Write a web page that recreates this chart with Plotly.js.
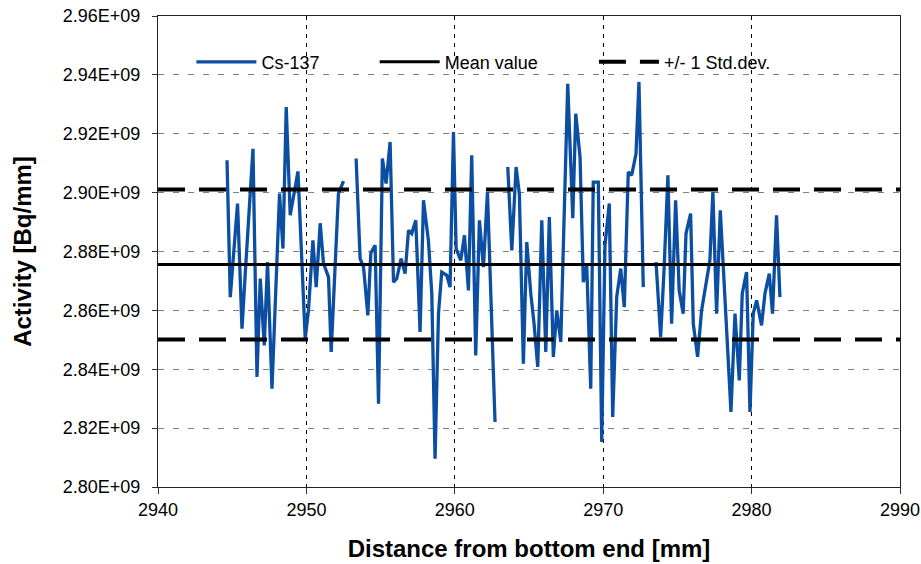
<!DOCTYPE html>
<html>
<head>
<meta charset="utf-8">
<script src="https://cdn.plot.ly/plotly-3.0.1.min.js"></script>
<style>
  html, body { margin: 0; padding: 0; background: #ffffff; }
  #chart { width: 921px; height: 564px; }
</style>
</head>
<body>
<div id="chart"></div>
<script>
// Cs-137 activity profile along the rod: position (mm from bottom end)
// and activity in units of 1E+09 Bq/mm. null marks positions without a reading.
const distanceMm = [
  2944.65, 2944.87, 2945.36, 2945.66, 2945.88, 2946.40, 2946.67, 2946.89, 2947.16, 2947.38,
  2947.68, 2947.90, 2948.19, 2948.42, 2948.64, 2948.91, 2949.43, 2949.92, 2950.14, 2950.44,
  2950.66, 2950.93, 2951.15, 2951.49, 2951.67, 2952.16, 2952.50,
  2952.90,
  2953.35, 2953.62, 2953.85, 2954.14, 2954.34, 2954.63, 2954.86, 2955.12, 2955.37, 2955.64,
  2955.87, 2956.09, 2956.38, 2956.65, 2956.88, 2957.10, 2957.37, 2957.66, 2957.89, 2958.22,
  2958.45, 2958.67, 2958.90, 2959.12, 2959.46, 2959.68, 2959.91, 2960.09, 2960.40, 2960.65,
  2960.92, 2961.14, 2961.41, 2961.66, 2961.93, 2962.20, 2962.71,
  2963.10,
  2963.57, 2963.84, 2964.13, 2964.35, 2964.62, 2964.85, 2965.12, 2965.34, 2965.59, 2965.86,
  2966.13, 2966.37, 2966.64, 2966.87, 2967.14, 2967.36, 2967.61, 2967.95, 2968.15, 2968.44,
  2968.66, 2968.89, 2969.16, 2969.33, 2969.67, 2969.90, 2970.12, 2970.41, 2970.64, 2970.91,
  2971.18, 2971.42, 2971.69, 2971.92, 2972.21, 2972.41, 2972.70,
  2973.10,
  2973.56, 2973.87, 2974.11, 2974.36, 2974.61, 2974.88, 2975.12, 2975.39, 2975.58, 2975.89,
  2976.07, 2976.36, 2976.63, 2976.97, 2977.19, 2977.39, 2977.64, 2977.89, 2978.27, 2978.61,
  2978.88, 2979.17, 2979.37, 2979.66, 2979.89, 2980.11, 2980.34, 2980.67, 2980.90, 2981.19,
  2981.41, 2981.68, 2981.91
];

const cs137Activity = [
  2.9110, 2.8645, 2.8963, 2.8538, 2.8726, 2.9149, 2.8374, 2.8708, 2.8481, 2.8764,
  2.8334, 2.8617, 2.8997, 2.8810, 2.9291, 2.8923, 2.9072, 2.8505, 2.8600, 2.8838,
  2.8679, 2.8896, 2.8760, 2.8713, 2.8459, 2.8997, 2.9039,
  null,
  2.9116, 2.8776, 2.8747, 2.8583, 2.8795, 2.8821, 2.8283, 2.9116, 2.9031, 2.9172,
  2.8696, 2.8708, 2.8776, 2.8725, 2.8872, 2.8861, 2.8906, 2.8527, 2.8974, 2.8838,
  2.8657, 2.8096, 2.8589, 2.8730, 2.8719, 2.8679, 2.9206, 2.8810, 2.8770, 2.8855,
  2.8668, 2.9127, 2.8447, 2.8906, 2.8747, 2.9002, 2.8221,
  null,
  2.9087, 2.8804, 2.9087, 2.8997, 2.8419, 2.8832, 2.8657, 2.8555, 2.8408, 2.8906,
  2.8459, 2.8917, 2.8442, 2.8600, 2.8493, 2.8940, 2.9370, 2.8913, 2.9268, 2.9121,
  2.8696, 2.8753, 2.8334, 2.9036, 2.9036, 2.8153, 2.8821, 2.8963, 2.8238, 2.8645,
  2.8742, 2.8611, 2.9070, 2.9059, 2.9132, 2.9376, 2.8679,
  null,
  2.8764, 2.8510, 2.8747, 2.9059, 2.8555, 2.8974, 2.8668, 2.8589, 2.8861, 2.8929,
  2.8555, 2.8442, 2.8600, 2.8702, 2.8770, 2.9002, 2.8589, 2.8940, 2.8566, 2.8255,
  2.8589, 2.8362, 2.8657, 2.8730, 2.8255, 2.8589, 2.8634, 2.8549, 2.8657, 2.8725,
  2.8589, 2.8923, 2.8645
];

// Summary statistics of the profile (1E+09 Bq/mm)
const meanActivity = 2.8756;
const stdDevActivity = 0.0255;

// Axis extents and ticks
const xRange = [2940, 2990];
const xTickValues = [2940, 2950, 2960, 2970, 2980, 2990];
const yTickValues = [2.80, 2.82, 2.84, 2.86, 2.88, 2.90, 2.92, 2.94, 2.96];

const E9 = 1e9;
const toBq = v => (v === null ? null : v * E9);
const FONT = 'Arial, "Liberation Sans", Helvetica, sans-serif';

const yTickLabels = yTickValues.map(v => v.toFixed(2) + 'E+09');

const traces = [
  {
    name: 'Cs-137',
    type: 'scatter',
    mode: 'lines',
    x: distanceMm,
    y: cs137Activity.map(toBq),
    connectgaps: false,
    line: { color: '#0B4EA2', width: 3.3 },
    legend: 'legend'
  },
  {
    name: 'Mean value',
    type: 'scatter',
    mode: 'lines',
    x: xRange,
    y: xRange.map(() => toBq(meanActivity)),
    line: { color: '#000000', width: 3 },
    legend: 'legend2'
  },
  {
    name: '+/- 1 Std.dev.',
    type: 'scatter',
    mode: 'lines',
    x: [xRange[0], xRange[1], null, xRange[0], xRange[1]],
    y: [
      toBq(meanActivity + stdDevActivity), toBq(meanActivity + stdDevActivity), null,
      toBq(meanActivity - stdDevActivity), toBq(meanActivity - stdDevActivity)
    ],
    connectgaps: false,
    line: { color: '#000000', width: 4, dash: '27px,14px' },
    legend: 'legend3'
  }
];

const legendBase = {
  orientation: 'h',
  xanchor: 'left',
  yanchor: 'middle',
  y: 0.902,
  bgcolor: 'rgba(0,0,0,0)',
  borderwidth: 0,
  itemwidth: 60,
  font: { family: FONT, size: 18, color: '#000000' }
};

const layout = {
  width: 921,
  height: 564,
  margin: { l: 158, r: 21, t: 16, b: 77 },
  paper_bgcolor: '#ffffff',
  plot_bgcolor: '#ffffff',
  font: { family: FONT, color: '#000000' },
  showlegend: true,
  legend: Object.assign({}, legendBase, { x: 0.045 }),
  legend2: Object.assign({}, legendBase, { x: 0.292 }),
  legend3: Object.assign({}, legendBase, { x: 0.5875 }),
  xaxis: {
    range: xRange,
    tickvals: xTickValues,
    ticks: 'outside',
    ticklen: 6,
    tickcolor: '#333333',
    showline: true,
    mirror: true,
    linecolor: '#222222',
    linewidth: 1,
    showgrid: true,
    gridcolor: '#000000',
    gridwidth: 1,
    griddash: '4px,5px',
    zeroline: false,
    tickfont: { family: FONT, size: 18, color: '#000000' },
    title: {
      text: 'Distance from bottom end [mm]',
      font: { family: FONT, size: 24, weight: 'bold', color: '#000000' },
      standoff: 21
    }
  },
  yaxis: {
    range: [yTickValues[0] * E9, yTickValues[yTickValues.length - 1] * E9],
    tickvals: yTickValues.map(toBq),
    ticktext: yTickLabels,
    ticks: 'outside',
    ticklen: 5,
    tickcolor: '#333333',
    ticklabelstandoff: 8,
    showline: true,
    mirror: true,
    linecolor: '#222222',
    linewidth: 1,
    showgrid: true,
    gridcolor: '#808080',
    gridwidth: 1,
    griddash: '6px,9px',
    zeroline: false,
    tickfont: { family: FONT, size: 18, color: '#000000' },
    title: {
      text: 'Activity [Bq/mm]',
      font: { family: FONT, size: 24, weight: 'bold', color: '#000000' },
      standoff: 24
    }
  }
};

Plotly.newPlot('chart', traces, layout, { staticPlot: true, displayModeBar: false });
</script>
</body>
</html>
